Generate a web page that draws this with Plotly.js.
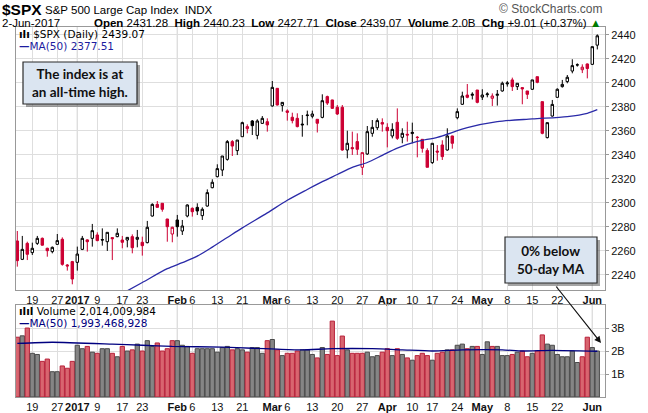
<!DOCTYPE html>
<html>
<head>
<meta charset="utf-8">
<script src="https://cdn.plot.ly/plotly-3.0.1.min.js"></script>
<style>
  html, body { margin: 0; padding: 0; background: #fff; }
  #chart { width: 648px; height: 413px; }
</style>
</head>
<body>
<div id="chart"></div>
<script>
// trading days, Dec 14 2016 .. Jun 2 2017
const dates = [
  '2016-12-14','2016-12-15','2016-12-16','2016-12-19','2016-12-20','2016-12-21','2016-12-22','2016-12-23','2016-12-27','2016-12-28',
  '2016-12-29','2016-12-30','2017-01-03','2017-01-04','2017-01-05','2017-01-06','2017-01-09','2017-01-10','2017-01-11','2017-01-12',
  '2017-01-13','2017-01-17','2017-01-18','2017-01-19','2017-01-20','2017-01-23','2017-01-24','2017-01-25','2017-01-26','2017-01-27',
  '2017-01-30','2017-01-31','2017-02-01','2017-02-02','2017-02-03','2017-02-06','2017-02-07','2017-02-08','2017-02-09','2017-02-10',
  '2017-02-13','2017-02-14','2017-02-15','2017-02-16','2017-02-17','2017-02-21','2017-02-22','2017-02-23','2017-02-24','2017-02-27',
  '2017-02-28','2017-03-01','2017-03-02','2017-03-03','2017-03-06','2017-03-07','2017-03-08','2017-03-09','2017-03-10','2017-03-13',
  '2017-03-14','2017-03-15','2017-03-16','2017-03-17','2017-03-20','2017-03-21','2017-03-22','2017-03-23','2017-03-24','2017-03-27',
  '2017-03-28','2017-03-29','2017-03-30','2017-03-31','2017-04-03','2017-04-04','2017-04-05','2017-04-06','2017-04-07','2017-04-10',
  '2017-04-11','2017-04-12','2017-04-13','2017-04-17','2017-04-18','2017-04-19','2017-04-20','2017-04-21','2017-04-24','2017-04-25',
  '2017-04-26','2017-04-27','2017-04-28','2017-05-01','2017-05-02','2017-05-03','2017-05-04','2017-05-05','2017-05-08','2017-05-09',
  '2017-05-10','2017-05-11','2017-05-12','2017-05-15','2017-05-16','2017-05-17','2017-05-18','2017-05-19','2017-05-22','2017-05-23',
  '2017-05-24','2017-05-25','2017-05-26','2017-05-30','2017-05-31','2017-06-01','2017-06-02'
];

const open = [
  2268.1,2252.8,2266.1,2258.4,2266.1,2270.3,2262.0,2259.2,2265.3,2269.5,
  2248.1,2250.9,2250.3,2261.1,2269.0,2270.3,2273.1,2269.3,2267.5,2270.9,
  2271.7,2268.9,2268.9,2271.7,2269.5,2267.0,2266.7,2288.9,2298.6,2299.5,
  2286.4,2273.9,2285.6,2276.4,2288.9,2295.3,2296.1,2289.2,2297.2,2312.5,
  2321.7,2327.2,2336.1,2350.9,2343.4,2355.0,2361.7,2368.1,2356.1,2366.1,
  2367.5,2380.6,2395.3,2381.1,2376.5,2371.2,2370.3,2365.5,2372.6,2372.0,
  2369.5,2371.1,2388.4,2385.6,2379.5,2379.5,2343.9,2345.9,2350.9,2329.5,
  2340.6,2357.8,2362.5,2366.8,2362.8,2355.6,2367.0,2354.5,2357.0,2357.6,
  2354.6,2352.8,2343.4,2333.4,2343.0,2348.1,2343.9,2355.6,2370.8,2382.0,
  2389.7,2389.5,2393.9,2388.0,2390.0,2387.0,2389.5,2393.1,2399.0,2402.3,
  2396.7,2395.9,2393.1,2394.5,2405.0,2384.2,2354.2,2372.2,2387.8,2396.7,
  2400.9,2409.7,2414.7,2410.8,2415.6,2415.3,2431.28
];
const high = [
  2276.4,2272.3,2267.5,2266.7,2272.3,2271.0,2262.5,2263.5,2273.9,2271.1,
  2248.9,2251.5,2263.4,2272.3,2269.5,2282.3,2275.3,2278.6,2275.3,2271.2,
  2278.6,2272.3,2271.4,2273.6,2277.3,2271.7,2284.8,2299.5,2301.4,2299.6,
  2286.5,2280.0,2289.8,2285.6,2298.6,2296.1,2299.5,2296.1,2311.1,2319.5,
  2332.0,2338.9,2352.2,2352.2,2352.2,2367.5,2365.3,2368.9,2369.5,2372.2,
  2370.3,2401.4,2395.5,2383.8,2377.8,2375.0,2374.5,2373.1,2376.7,2376.7,
  2369.6,2390.3,2389.2,2385.8,2381.4,2381.4,2360.0,2359.2,2357.8,2341.7,
  2363.9,2368.9,2370.3,2370.3,2366.2,2366.2,2378.6,2362.0,2367.5,2366.7,
  2355.6,2352.8,2345.3,2349.5,2348.0,2352.0,2362.0,2355.8,2378.6,2392.5,
  2398.9,2392.0,2393.9,2394.5,2392.0,2391.1,2393.9,2400.9,2401.4,2404.2,
  2399.5,2395.9,2393.1,2402.3,2405.0,2384.2,2366.7,2385.6,2395.3,2402.3,
  2406.4,2419.5,2416.1,2415.3,2416.0,2430.0,2440.23
];
const low = [
  2246.7,2252.2,2252.2,2256.4,2264.8,2264.2,2255.0,2257.8,2264.8,2247.5,
  2243.4,2232.0,2243.4,2260.5,2259.2,2263.4,2267.9,2264.2,2259.8,2252.2,
  2271.2,2262.0,2262.8,2257.8,2262.8,2255.9,2266.1,2288.4,2296.0,2292.5,
  2267.5,2267.0,2271.7,2273.1,2287.8,2288.4,2289.7,2285.6,2296.7,2312.0,
  2321.1,2322.2,2335.0,2338.9,2339.7,2355.0,2357.8,2356.4,2352.8,2365.6,
  2359.2,2380.0,2381.0,2375.9,2368.4,2366.1,2362.8,2355.0,2364.5,2370.3,
  2358.5,2370.3,2381.4,2378.1,2373.1,2343.3,2337.0,2339.8,2339.8,2323.1,
  2339.8,2355.0,2360.6,2359.2,2346.1,2353.6,2352.3,2349.5,2350.9,2349.5,
  2337.8,2341.7,2329.5,2332.3,2335.0,2335.6,2343.3,2345.0,2369.5,2381.4,
  2387.0,2386.0,2382.8,2385.6,2387.8,2380.6,2380.9,2392.5,2396.7,2393.1,
  2393.9,2382.0,2386.4,2393.9,2399.5,2357.0,2353.6,2371.7,2387.5,2395.9,
  2399.5,2407.8,2413.4,2408.0,2403.6,2414.7,2427.71
];
const close = [
  2251.7,2261.1,2257.0,2262.0,2270.3,2264.6,2260.0,2262.8,2268.4,2248.6,
  2247.3,2236.4,2257.2,2270.3,2267.5,2276.7,2268.4,2268.9,2275.3,2270.0,
  2274.5,2267.0,2271.1,2262.5,2271.1,2264.2,2279.5,2298.6,2296.1,2294.5,
  2280.0,2279.5,2280.0,2280.6,2298.1,2292.5,2293.1,2294.5,2308.4,2317.0,
  2328.4,2338.9,2350.9,2347.2,2352.2,2366.7,2363.4,2364.2,2368.1,2370.3,
  2364.8,2396.1,2381.4,2383.6,2375.3,2368.4,2363.4,2364.9,2373.0,2373.9,
  2366.2,2385.0,2383.0,2378.6,2373.9,2343.9,2349.5,2345.0,2344.5,2341.7,
  2359.2,2362.8,2368.4,2365.5,2360.0,2361.1,2353.6,2357.8,2356.4,2358.6,
  2354.3,2345.3,2329.5,2349.5,2342.2,2338.4,2355.6,2349.5,2375.9,2388.9,
  2387.8,2390.3,2383.6,2389.7,2390.6,2388.9,2390.3,2399.5,2399.7,2396.7,
  2399.5,2394.8,2390.3,2402.3,2400.3,2357.8,2366.7,2381.9,2394.5,2398.6,
  2404.5,2414.2,2414.9,2412.9,2411.8,2430.0,2439.07
];
const prevCloseStart = 2271.7;   // close before the first bar shown

// volume, billions of shares
const volume = [
  2.6,2.66,3.0,1.9,1.85,1.55,1.65,1.1,1.1,1.35,
  1.25,1.55,2.25,2.1,2.2,1.95,1.9,2.1,2.1,1.9,
  1.75,2.2,2.0,2.05,2.3,2.0,2.45,2.2,2.35,2.0,
  2.1,2.45,2.45,2.25,2.2,1.9,2.1,2.1,2.1,2.1,
  1.95,2.15,2.2,2.05,2.1,2.05,1.95,2.15,2.15,1.9,
  2.45,2.5,2.05,1.8,1.9,1.9,2.0,2.05,2.05,1.85,
  1.7,2.15,1.85,3.3,1.8,2.65,2.05,1.9,1.9,1.9,
  1.95,1.75,1.8,1.95,2.1,1.8,2.1,1.85,1.7,1.6,
  1.8,1.9,1.8,1.6,1.9,1.95,2.05,2.05,2.25,2.3,
  2.1,2.2,2.2,1.85,2.4,2.2,2.2,1.8,1.8,1.85,
  1.95,2.0,1.75,1.9,2.0,2.7,2.3,2.25,1.85,1.75,
  1.75,2.0,1.5,1.75,2.6,2.15,2.0
];

// 50-day moving averages (bar index, value)
const maIdx = [20, 25, 30, 33, 36, 39, 42, 45, 50, 54, 58, 61, 64, 67, 70, 73, 76, 80, 84, 90, 96, 103, 110, 114, 116];
const maVal = [2222, 2233.5, 2245, 2250, 2255.5, 2263, 2271, 2279, 2291.5, 2302, 2311, 2317.5, 2323.5, 2329.5, 2333.5,
               2339.5, 2345.5, 2351, 2354.5, 2362.5, 2367.5, 2369.8, 2371.8, 2374.5, 2377.51];
const volMaIdx = [0, 7, 19, 25, 31, 41, 47, 52, 57, 63, 71, 77, 83, 89, 97, 101, 107, 116];
const volMaVal = [2.33, 2.38, 2.3, 2.25, 2.2, 2.17, 2.12, 2.08, 2.05, 2.1, 2.1, 2.05, 2.0, 2.05, 2.05, 2.0, 2.03, 1.99];

const tickDates = ['2016-12-19','2016-12-27','2017-01-03','2017-01-09','2017-01-17','2017-01-23','2017-02-01','2017-02-06',
                   '2017-02-13','2017-02-21','2017-03-01','2017-03-06','2017-03-13','2017-03-20','2017-03-27','2017-04-03',
                   '2017-04-10','2017-04-17','2017-04-24','2017-05-01','2017-05-08','2017-05-15','2017-05-22','2017-06-01'];
const tickText = ['19','27','<b>2017</b>','9','17','23','<b>Feb</b>','6','13','21','<b>Mar</b>','6','13','20','27','<b>Apr</b>',
                  '10','17','24','<b>May</b>','8','15','22','<b>Jun</b>'];
const priceTicks = [2240, 2260, 2280, 2300, 2320, 2340, 2360, 2380, 2400, 2420, 2440];
const volTicks = [1, 2, 3];
const volTickText = ['1B', '2B', '3B'];

const RED = '#cc0033';
const idx = dates.map((d, i) => i);
const tickIdx = tickDates.map(d => dates.indexOf(d));
const monthIdx = tickIdx.filter((t, k) => tickText[k].startsWith('<b>'));

// black = closed above previous close, red = closed below
const isDown = close.map((c, i) => c < (i === 0 ? prevCloseStart : close[i - 1]));
function pick(arr, down) { return arr.filter((v, i) => isDown[i] === down); }

// pixel helpers for page furniture (plot area is x 16..605, y 27..397)
const PX = x => (x - 16) / 589;
const PY = y => (397 - y) / 370;

const traces = [
  {
    type: 'candlestick', xaxis: 'x', yaxis: 'y',
    x: pick(idx, false), open: pick(open, false), high: pick(high, false), low: pick(low, false), close: pick(close, false),
    increasing: { line: { color: '#000', width: 1 }, fillcolor: '#fff' },
    decreasing: { line: { color: '#000', width: 1 }, fillcolor: '#000' },
    whiskerwidth: 0, hoverinfo: 'skip'
  },
  {
    type: 'candlestick', xaxis: 'x', yaxis: 'y',
    x: pick(idx, true), open: pick(open, true), high: pick(high, true), low: pick(low, true), close: pick(close, true),
    increasing: { line: { color: RED, width: 1 }, fillcolor: '#fff' },
    decreasing: { line: { color: RED, width: 1 }, fillcolor: RED },
    whiskerwidth: 0, hoverinfo: 'skip'
  },
  {
    type: 'scatter', mode: 'lines', xaxis: 'x', yaxis: 'y',
    x: maIdx, y: maVal, line: { color: '#2a2aa8', width: 1.3, shape: 'spline', smoothing: 0.8 }, hoverinfo: 'skip'
  },
  {
    type: 'bar', xaxis: 'x2', yaxis: 'y2',
    x: idx, y: volume, width: 0.85,
    marker: {
      color: isDown.map(d => d ? '#d8656f' : '#858585'),
      line: { color: isDown.map(d => d ? '#b8213a' : '#4a4a4a'), width: 1 }
    },
    hoverinfo: 'skip'
  },
  {
    type: 'scatter', mode: 'lines', xaxis: 'x2', yaxis: 'y2',
    x: volMaIdx, y: volMaVal, line: { color: '#000080', width: 1.3, shape: 'spline', smoothing: 0.6 }, hoverinfo: 'skip'
  }
];

const axisFont = { family: 'Liberation Sans, Arial, sans-serif', size: 11, color: '#111' };
const xCommon = {
  range: [-0.26, 117.54], tickmode: 'array', tickvals: tickIdx, ticktext: tickText, tickangle: 0,
  showgrid: true, gridcolor: '#dedede', gridwidth: 1, zeroline: false,
  showline: true, mirror: true, linecolor: '#999', linewidth: 1,
  ticks: '', tickfont: axisFont, fixedrange: true
};

const shapes = [];
monthIdx.forEach(m => {
  shapes.push({ type: 'line', xref: 'x', yref: 'y domain', x0: m, x1: m, y0: 0, y1: 1, line: { color: '#b8b8b8', width: 1 }, layer: 'below' });
  shapes.push({ type: 'line', xref: 'x2', yref: 'y2 domain', x0: m, x1: m, y0: 0, y1: 1, line: { color: '#b8b8b8', width: 1 }, layer: 'below' });
});
// callout boxes (shadow + box)
function box(x0, y0, x1, y1) {
  shapes.push({ type: 'rect', xref: 'paper', yref: 'paper', x0: PX(x0 + 3), x1: PX(x1 + 3), y0: PY(y1 + 3), y1: PY(y0 + 3),
                fillcolor: 'rgba(90,90,90,0.55)', line: { width: 0 } });
  shapes.push({ type: 'rect', xref: 'paper', yref: 'paper', x0: PX(x0), x1: PX(x1), y0: PY(y1), y1: PY(y0),
                fillcolor: '#dbe5f1', line: { color: '#2b2b2b', width: 1.2 } });
}
box(23, 62, 137, 104);
box(505, 237, 597, 283);

const legFont = { family: 'DejaVu Sans, Verdana, sans-serif', size: 10.5, color: '#000' };
const calloutFont = { family: 'Lato, Open Sans, sans-serif', size: 13.5, color: '#111' };
const headFont = { family: 'Liberation Sans Narrow, Arial Narrow, Liberation Sans, sans-serif', size: 11.5, color: '#000' };

function note(text, x, y, font, xanchor) {
  return { text, xref: 'paper', yref: 'paper', x: PX(x), y: PY(y), xanchor: xanchor || 'left', yanchor: 'middle',
           showarrow: false, font, align: xanchor === 'right' ? 'right' : 'left' };
}

const annotations = [
  note('<b>$SPX</b>', 0, 9, { family: 'Liberation Sans, Arial, sans-serif', size: 15.5, color: '#000' }),
  note('S&P 500 Large Cap Index  INDX', 43, 10, Object.assign({}, headFont, { size: 11.5 })),
  note('© StockCharts.com', 605, 9, { family: 'Liberation Sans, Arial, sans-serif', size: 12, color: '#555' }, 'right'),
  note('2-Jun-2017', 0, 23, headFont),
  note('<b>Open</b> 2431.28  <b>High</b> 2440.23  <b>Low</b> 2427.71  <b>Close</b> 2439.07  <b>Volume</b> 2.0B  <b>Chg</b> +9.01 (+0.37%) <span style="color:#007a00">▲</span>',
       603, 23, headFont, 'right'),
  note('<b>ılı</b> $SPX (Daily) 2439.07', 17, 34, legFont),
  note('<span style="color:#1c1ca0"><b>—</b>MA(50) 2377.51</span>', 17, 46, legFont),
  note('<b>ılıl</b> Volume 2,014,009,984', 17, 311, legFont),
  note('<span style="color:#000080"><b>—</b>MA(50) 1,993,468,928</span>', 17, 323, legFont),
  { text: '<b>The index is at</b><br><b>an all-time high.</b>', xref: 'paper', yref: 'paper', x: PX(80), y: PY(83),
    xanchor: 'center', yanchor: 'middle', showarrow: false, font: calloutFont, align: 'center' },
  { text: '<b>0% below</b><br><b>50-day MA</b>', xref: 'paper', yref: 'paper', x: PX(551), y: PY(260),
    xanchor: 'center', yanchor: 'middle', showarrow: false, font: calloutFont, align: 'center' },
  { text: '', xref: 'paper', yref: 'paper', x: PX(601), y: PY(343), ax: -46, ay: -58, axref: 'pixel', ayref: 'pixel',
    showarrow: true, arrowhead: 2, arrowsize: 1.1, arrowwidth: 1.2, arrowcolor: '#111', standoff: 0 }
];

const layout = {
  width: 648, height: 413,
  margin: { l: 16, r: 43, t: 27, b: 16 },
  paper_bgcolor: '#fff', plot_bgcolor: '#fff',
  showlegend: false, hovermode: false,
  font: { family: 'Liberation Sans, Arial, sans-serif', size: 11 },
  xaxis: Object.assign({}, xCommon, { anchor: 'y', rangeslider: { visible: false } }),
  xaxis2: Object.assign({}, xCommon, { anchor: 'y2', matches: 'x' }),
  yaxis: {
    domain: [0.2892, 1], range: [2227.25, 2446.4], side: 'right',
    tickmode: 'array', tickvals: priceTicks, ticks: 'outside', ticklen: 3, tickcolor: '#999',
    showgrid: true, gridcolor: '#dedede', zeroline: false,
    showline: true, mirror: true, linecolor: '#999', tickfont: axisFont, fixedrange: true
  },
  yaxis2: {
    domain: [0, 0.2486], range: [0, 4.0], side: 'right',
    tickmode: 'array', tickvals: volTicks, ticktext: volTickText, ticks: 'outside', ticklen: 3, tickcolor: '#999',
    showgrid: true, gridcolor: '#dedede', zeroline: false,
    showline: true, mirror: true, linecolor: '#999', tickfont: axisFont, fixedrange: true
  },
  bargap: 0,
  shapes, annotations
};

Plotly.newPlot('chart', traces, layout, { displayModeBar: false, staticPlot: true });
</script>
</body>
</html>
